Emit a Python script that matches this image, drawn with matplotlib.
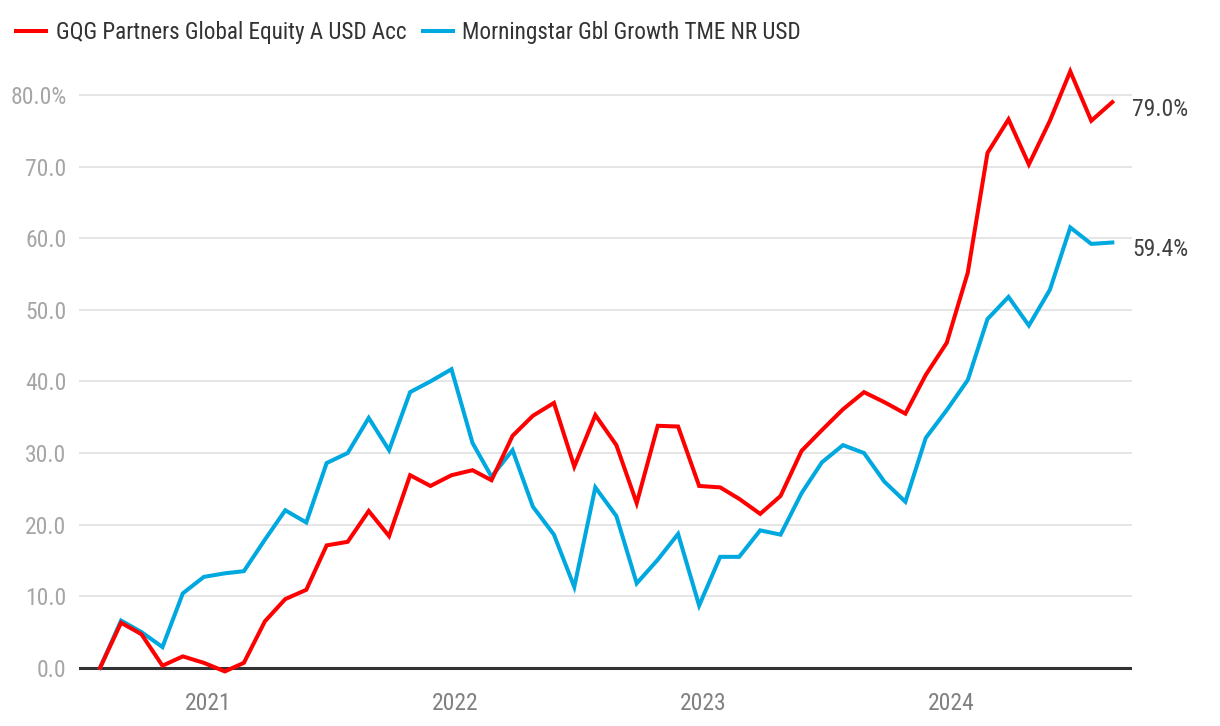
import numpy as np
import pandas as pd
import matplotlib
matplotlib.use('Agg')
import matplotlib.pyplot as plt
import matplotlib.dates as mdates

plt.rcParams['font.family'] = ['Liberation Sans Narrow', 'Roboto Condensed', 'DejaVu Sans']

# monthly data, end of month
dates = pd.date_range('2020-07-31', periods=50, freq='ME')

fund_name = 'GQG Partners Global Equity A USD Acc'
index_name = 'Morningstar Gbl Growth TME NR USD'

fund = [0.0, 6.3, 4.7, 0.3, 1.6, 0.7, -0.5, 0.7, 6.5, 9.6,
        10.9, 17.1, 17.6, 21.9, 18.4, 26.9, 25.4, 26.9, 27.6, 26.2,
        32.4, 35.2, 37.0, 28.1, 35.3, 31.1, 23.0, 33.8, 33.7, 25.4,
        25.2, 23.6, 21.5, 24.0, 30.3, 33.2, 36.1, 38.5, 37.1, 35.5,
        40.9, 45.4, 55.2, 71.9, 76.6, 70.3, 76.4, 83.3, 76.4, 79.0]

bench = [0.0, 6.6, 5.0, 2.9, 10.4, 12.7, 13.2, 13.5, 17.9, 22.0,
         20.3, 28.6, 30.0, 34.9, 30.4, 38.5, 40.0, 41.7, 31.4, 26.7,
         30.4, 22.5, 18.6, 11.3, 25.2, 21.2, 11.8, 15.1, 18.7, 8.7,
         15.5, 15.5, 19.2, 18.6, 24.4, 28.7, 31.1, 30.0, 26.0, 23.2,
         32.1, 36.0, 40.2, 48.7, 51.8, 47.8, 52.8, 61.5, 59.2, 59.4]

yticks = [0, 10, 20, 30, 40, 50, 60, 70, 80]
ytick_labels = ['0.0', '10.0', '20.0', '30.0', '40.0', '50.0', '60.0', '70.0', '80.0%']

red = '#ff0000'
blue = '#00a8e0'

fig = plt.figure(figsize=(12.2, 7.26), dpi=100)
ax = fig.add_axes([79 / 1220, 51 / 726, (1132 - 79) / 1220, (674 - 51) / 726])

ax.plot(dates, bench, color=blue, lw=2.9, label=index_name, zorder=3,
        solid_joinstyle='miter')
ax.plot(dates, fund, color=red, lw=2.9, label=fund_name, zorder=4,
        solid_joinstyle='miter')

ax.set_ylim(-1, 86)
ax.set_xlim(pd.Timestamp('2020-06-30'), pd.Timestamp('2024-09-29'))

ax.set_yticks(yticks)
ax.set_yticklabels(ytick_labels)
for y in yticks[1:]:
    ax.axhline(y, color='#e3e3e3', lw=1.3, zorder=1)
ax.axhline(0, color='#333333', lw=2.2, zorder=2)

# year labels, nudged a few days like the original
ax.set_xticks([pd.Timestamp(f'{y}-01-06') for y in (2021, 2022, 2023, 2024)])
ax.set_xticklabels(['2021', '2022', '2023', '2024'])

for s in ax.spines.values():
    s.set_visible(False)
ax.tick_params(axis='both', length=0)
ax.tick_params(axis='y', labelsize=17, labelcolor='#a6a6a6', pad=9)
ax.tick_params(axis='x', labelsize=17, labelcolor='#808080', pad=12)

# end labels
for vals in (fund, bench):
    ax.annotate(f'{vals[-1]:.1f}%', xy=(1.0, vals[-1]),
                xycoords=('axes fraction', 'data'),
                xytext=(0, -5), textcoords='offset points',
                ha='left', va='center', fontsize=17, color='#404040')

handles, labels = ax.get_legend_handles_labels()
leg = fig.legend(handles[::-1], labels[::-1], loc='center left',
                 bbox_to_anchor=(0.0, 1 - 33 / 726), ncol=2, frameon=False,
                 fontsize=16.7, handlelength=1.3, handletextpad=0.4,
                 columnspacing=0.7, borderaxespad=0.3)
for t in leg.get_texts():
    t.set_color('#333333')

fig.savefig('out.png', dpi=100)
